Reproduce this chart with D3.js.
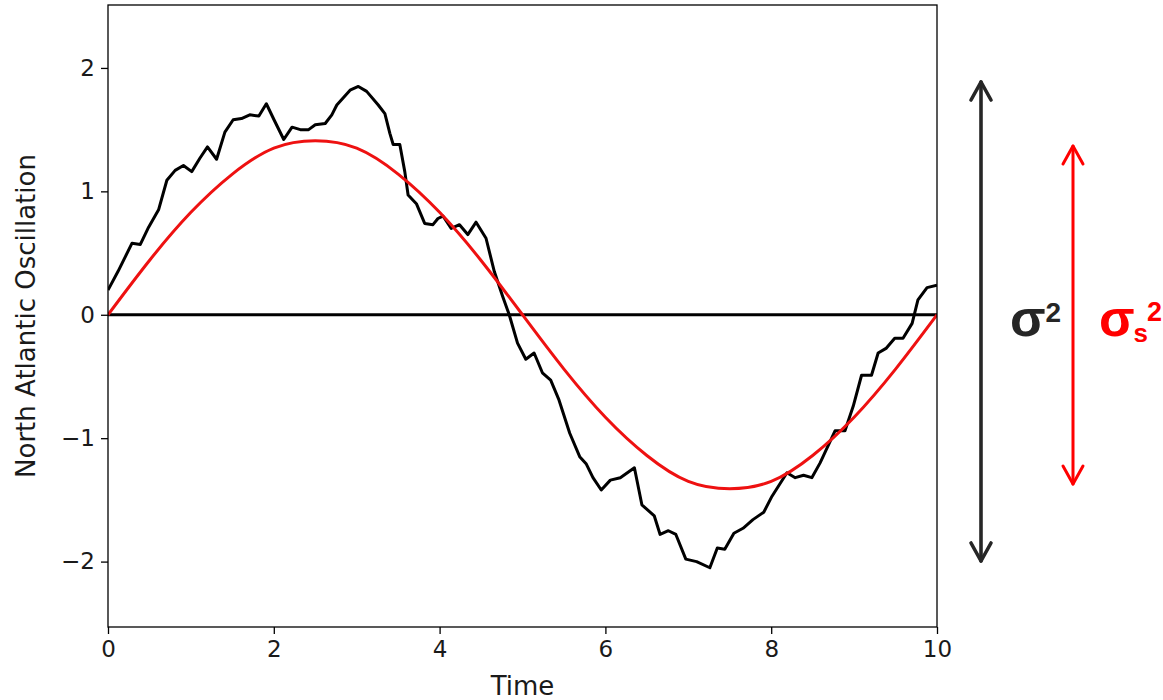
<!DOCTYPE html>
<html>
<head>
<meta charset="utf-8">
<script src="https://cdn.jsdelivr.net/npm/d3@7"></script>
<style>
  html, body { margin: 0; padding: 0; background: #ffffff; }
  svg { display: block; }
  .tick text { font-family: "DejaVu Sans", sans-serif; }
</style>
</head>
<body>
<svg id="chart" width="1163" height="700"></svg>
<script>
// ---- Data ----
const naoTime = [0.00,0.12,0.29,0.39,0.49,0.61,0.71,0.81,0.91,1.01,1.11,1.20,1.31,1.41,1.51,1.61,1.71,1.82,1.91,2.01,
  2.12,2.22,2.32,2.42,2.50,2.62,2.70,2.76,2.92,3.02,3.12,3.26,3.34,3.40,3.44,3.52,3.58,3.62,3.72,3.82,3.92,3.98,
  4.04,4.14,4.24,4.34,4.44,4.56,4.66,4.76,4.84,4.94,5.04,5.14,5.24,5.34,5.44,5.57,5.69,5.77,5.85,5.95,
  6.06,6.18,6.35,6.44,6.59,6.66,6.76,6.85,6.97,7.10,7.26,7.35,7.44,7.55,7.66,7.78,7.91,
  8.01,8.19,8.29,8.39,8.49,8.59,8.77,8.89,8.99,9.09,9.21,9.29,9.39,9.49,9.59,9.70,9.77,9.88,10.00];
const naoValue = [0.20,0.35,0.58,0.57,0.71,0.85,1.09,1.17,1.21,1.16,1.27,1.36,1.26,1.48,1.58,1.59,1.62,1.61,1.71,1.57,
  1.42,1.52,1.50,1.50,1.54,1.55,1.62,1.70,1.82,1.85,1.81,1.70,1.63,1.47,1.38,1.38,1.16,0.97,0.90,0.74,0.73,0.78,
  0.80,0.70,0.73,0.65,0.75,0.62,0.35,0.15,0.00,-0.23,-0.36,-0.31,-0.47,-0.53,-0.69,-0.96,-1.15,-1.21,-1.32,-1.42,
  -1.34,-1.32,-1.24,-1.54,-1.63,-1.78,-1.75,-1.78,-1.98,-2.00,-2.05,-1.89,-1.90,-1.77,-1.73,-1.66,-1.60,
  -1.47,-1.28,-1.32,-1.30,-1.32,-1.20,-0.94,-0.94,-0.74,-0.49,-0.49,-0.31,-0.27,-0.19,-0.19,-0.07,0.12,0.22,0.24];

const signalTime = [0,0.5,1,1.5,2,2.5,3,3.5,4,4.5,5,5.5,6,6.5,7,7.5,8,8.5,9,9.5,10];
const signalValue = [0,0.44,0.83,1.14,1.35,1.41,1.35,1.14,0.83,0.44,0,-0.44,-0.83,-1.14,-1.35,-1.41,-1.35,-1.14,-0.83,-0.44,0];

const xTicks = [0,2,4,6,8,10];
const yTicks = [-2,-1,0,1,2];
const xDomain = [0,10];
const yDomain = [-2.53,2.51];
const xLabel = "Time";
const yLabel = "North Atlantic Oscillation";

// ---- Layout ----
const svg = d3.select("#chart");
const plot = {left:108, right:937, top:5, bottom:627};

const x = d3.scaleLinear().domain(xDomain).range([plot.left, plot.right]);
const y = d3.scaleLinear().domain(yDomain).range([plot.bottom, plot.top]);

const tickFont = 23;
const labelFont = 26;
const textColor = "#1a1a1a";

// axes
const xAxis = svg.append("g")
  .attr("transform", `translate(0,${plot.bottom})`)
  .call(d3.axisBottom(x).tickValues(xTicks).tickSize(7).tickPadding(5).tickFormat(d3.format("d")));
const yAxis = svg.append("g")
  .attr("transform", `translate(${plot.left},0)`)
  .call(d3.axisLeft(y).tickValues(yTicks).tickSize(7).tickPadding(6).tickFormat(d3.format("d")));
[xAxis, yAxis].forEach(g => {
  g.select(".domain").remove();
  g.selectAll(".tick line").attr("stroke", "#000").attr("stroke-width", 1.3);
  g.selectAll(".tick text").attr("font-size", tickFont).attr("fill", textColor);
});
xAxis.selectAll(".tick text").attr("dy", "0.8em");

// zero line
svg.append("line")
  .attr("x1", x(xDomain[0])).attr("x2", x(xDomain[1]))
  .attr("y1", y(0)).attr("y2", y(0))
  .attr("stroke", "#000").attr("stroke-width", 3);

// clip
svg.append("clipPath").attr("id","clip").append("rect")
  .attr("x", plot.left).attr("y", plot.top)
  .attr("width", plot.right-plot.left).attr("height", plot.bottom-plot.top);

const naoData = naoTime.map((t,i) => [t, naoValue[i]]);
const sigData = signalTime.map((t,i) => [t, signalValue[i]]);

svg.append("path")
  .datum(naoData)
  .attr("clip-path","url(#clip)")
  .attr("fill","none").attr("stroke","#000").attr("stroke-width",3)
  .attr("stroke-linejoin","round")
  .attr("d", d3.line().x(d=>x(d[0])).y(d=>y(d[1])));

svg.append("path")
  .datum(sigData)
  .attr("clip-path","url(#clip)")
  .attr("fill","none").attr("stroke","#ee1111").attr("stroke-width",3)
  .attr("d", d3.line().curve(d3.curveNatural).x(d=>x(d[0])).y(d=>y(d[1])));

// frame
svg.append("rect")
  .attr("x", plot.left).attr("y", plot.top)
  .attr("width", plot.right-plot.left).attr("height", plot.bottom-plot.top)
  .attr("fill","none").attr("stroke","#000").attr("stroke-width",1.3);

// axis labels
svg.append("text")
  .attr("x", (plot.left+plot.right)/2).attr("y", 695)
  .attr("text-anchor","middle")
  .attr("font-family","DejaVu Sans, sans-serif").attr("font-size",labelFont)
  .attr("fill", textColor)
  .text(xLabel);
svg.append("text")
  .attr("transform", `translate(35,${(plot.top+plot.bottom)/2}) rotate(-90)`)
  .attr("text-anchor","middle")
  .attr("font-family","DejaVu Sans, sans-serif").attr("font-size",labelFont)
  .attr("fill", textColor)
  .text(yLabel);

// ---- variance arrows (annotation) ----
function doubleArrow(xp, y1, y2, color, w) {
  const g = svg.append("g").attr("stroke", color).attr("stroke-width", w)
    .attr("fill","none").attr("stroke-linecap","round").attr("stroke-linejoin","round");
  g.append("line").attr("x1",xp).attr("x2",xp).attr("y1",y1+1).attr("y2",y2-1);
  g.append("polyline").attr("points", `${xp-10},${y1+19} ${xp},${y1+1} ${xp+10},${y1+19}`);
  g.append("polyline").attr("points", `${xp-10},${y2-19} ${xp},${y2-1} ${xp+10},${y2-19}`);
}
doubleArrow(981, 81, 562, "#262626", 3.6);
doubleArrow(1073, 145, 485, "#ff0000", 3);

const lab1 = svg.append("text")
  .attr("x", 1010).attr("y", 336)
  .attr("font-family","Liberation Sans, Arial, sans-serif").attr("font-weight","bold")
  .attr("fill","#262626");
lab1.append("tspan").attr("font-size",52).text("σ");
lab1.append("tspan").attr("font-size",28).attr("dy",-14).text("2");

const lab2 = svg.append("text")
  .attr("x", 1099).attr("y", 336)
  .attr("font-family","Liberation Sans, Arial, sans-serif").attr("font-weight","bold")
  .attr("fill","#ff0000");
lab2.append("tspan").attr("font-size",52).text("σ");
lab2.append("tspan").attr("font-size",26).attr("dx",-1).attr("dy",6).text("s");
lab2.append("tspan").attr("font-size",27).attr("dx",-1).attr("dy",-21).text("2");
</script>
</body>
</html>
